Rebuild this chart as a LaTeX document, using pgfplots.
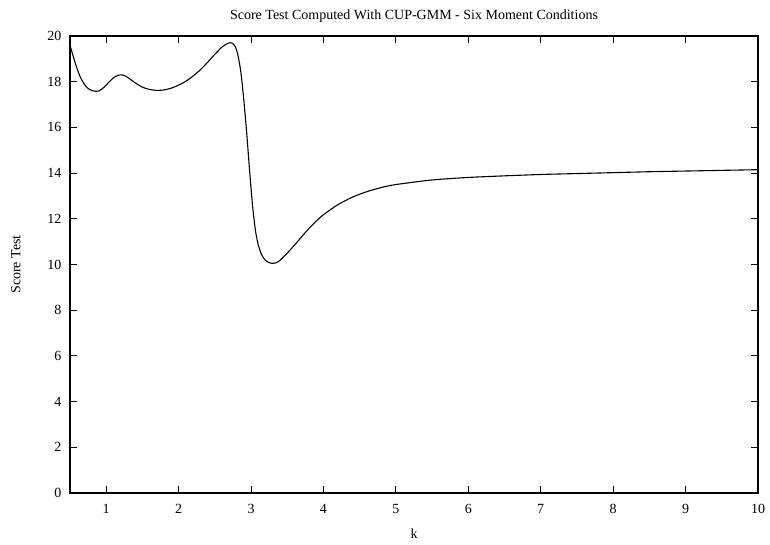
\documentclass[border=0pt]{standalone}
\usepackage{fontspec}
\setmainfont{Liberation Serif}
\usepackage{pgfplots}
\pgfplotsset{compat=1.18}
\begin{document}
\begin{tikzpicture}
\begin{axis}[
  scale only axis,
  width=688pt, height=457pt,
  xmin=0.5, xmax=10, ymin=0, ymax=20,
  xtick={1,2,...,10}, ytick={0,2,...,20},
  tick align=inside,
  major tick length=7pt,
  axis line style={line width=1.2pt},
  every tick/.style={black, line width=0.9pt},
  /pgf/number format/assume math mode=true,
  tick label style={font=\fontsize{14}{16}\selectfont},
  xticklabel style={yshift=-8pt},
  yticklabel style={xshift=-5pt},
  label style={font=\fontsize{14}{16}\selectfont},
  xlabel={k}, ylabel={Score Test},
  xlabel style={yshift=-8pt},
  ylabel style={yshift=20pt},
  title={Score Test Computed With CUP-GMM - Six Moment Conditions},
  title style={font=\fontsize{14}{16}\selectfont, yshift=4pt},
]
\addplot[black, line width=1.1pt, smooth, tension=0.4] coordinates {
(0.50,19.60) (0.55,19.05) (0.60,18.55) (0.65,18.15) (0.70,17.88)
(0.75,17.70) (0.80,17.62) (0.85,17.58) (0.90,17.60) (0.95,17.70)
(1.00,17.85) (1.05,18.02) (1.10,18.17) (1.15,18.26) (1.20,18.30)
(1.25,18.27) (1.30,18.18) (1.40,17.95) (1.50,17.76) (1.60,17.66)
(1.70,17.62) (1.80,17.64) (1.90,17.72) (2.00,17.85) (2.10,18.02)
(2.20,18.25) (2.30,18.52) (2.40,18.85) (2.50,19.20) (2.60,19.52)
(2.68,19.68) (2.73,19.70) (2.78,19.55) (2.82,19.15) (2.86,18.40)
(2.90,17.20) (2.94,15.75) (2.98,14.10) (3.02,12.60) (3.06,11.50)
(3.10,10.85) (3.15,10.40) (3.20,10.18) (3.25,10.08) (3.30,10.05)
(3.35,10.08) (3.40,10.18) (3.50,10.50) (3.60,10.85) (3.70,11.22)
(3.80,11.58) (3.90,11.90) (4.00,12.18) (4.20,12.62) (4.40,12.95)
(4.60,13.19) (4.80,13.37) (5.00,13.50) (5.50,13.70) (6.00,13.81)
(6.50,13.88) (7.00,13.94) (7.50,13.98) (8.00,14.02) (8.50,14.06)
(9.00,14.09) (9.50,14.12) (10.00,14.15)
};
\end{axis}
\pgfresetboundingbox
\path ([shift={(-70pt,-51pt)}]current axis.south west) rectangle ([shift={(12pt,36pt)}]current axis.north east);
\end{tikzpicture}
\end{document}
